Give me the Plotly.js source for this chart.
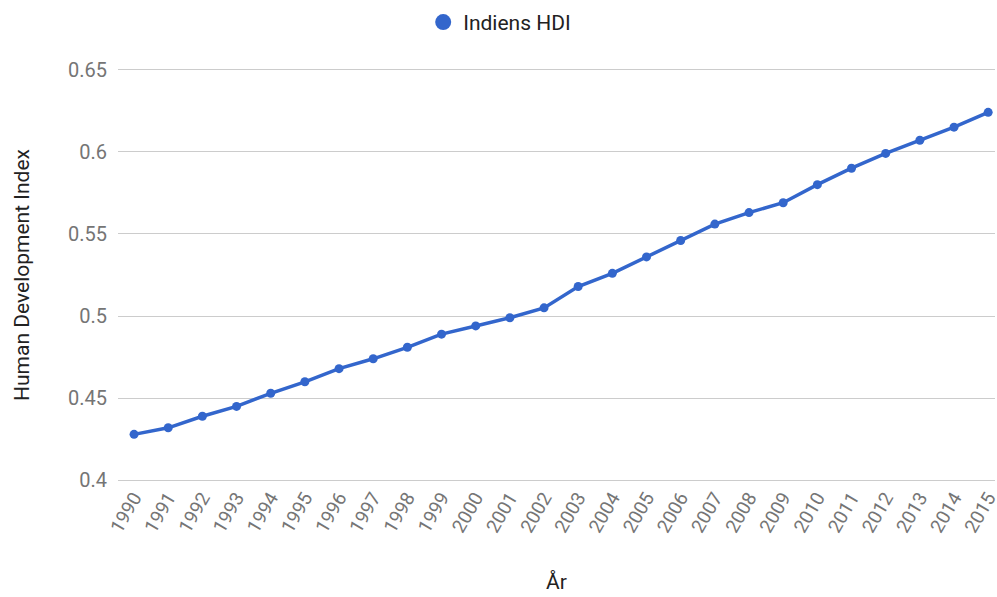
<!DOCTYPE html>
<html>
<head>
<meta charset="utf-8">
<script src="https://cdn.plot.ly/plotly-3.0.1.min.js"></script>
<style>html,body{margin:0;padding:0;background:#fff;}#chart{width:997px;height:597px;}</style>
</head>
<body>
<div id="chart"></div>
<script>
const years = [1990,1991,1992,1993,1994,1995,1996,1997,1998,1999,2000,2001,2002,2003,2004,2005,2006,2007,2008,2009,2010,2011,2012,2013,2014,2015];
const hdi = [0.428,0.432,0.439,0.445,0.453,0.460,0.468,0.474,0.481,0.489,0.494,0.499,0.505,0.518,0.526,0.536,0.546,0.556,0.563,0.569,0.580,0.590,0.599,0.607,0.615,0.624];
const seriesName = 'Indiens HDI';
const yTicks = [0.4,0.45,0.5,0.55,0.6,0.65];

const blue = '#3366cc';
const traces = [
  {x: years, y: hdi, type: 'scatter', mode: 'lines+markers', showlegend: false,
   line: {color: blue, width: 3.5}, marker: {color: blue, size: 9}, hoverinfo: 'x+y'},
  {x: [null], y: [null], type: 'scatter', mode: 'markers', name: seriesName,
   marker: {color: blue, size: 22}}
];
const layout = {
  width: 997, height: 597,
  margin: {l: 118, r: 2, t: 66, b: 115},
  paper_bgcolor: '#fff', plot_bgcolor: '#fff',
  font: {family: 'Roboto, Arial, sans-serif', color: '#757575', size: 20},
  showlegend: true,
  legend: {orientation: 'h', x: 0.348, xanchor: 'left', y: 1.11, yanchor: 'middle',
           itemsizing: 'trace', font: {size: 21, color: '#222'}},
  xaxis: {range: [1989.53, 2015.2], tickvals: years, ticktext: years.map(String),
          tickangle: -60, showgrid: false, zeroline: false, showline: false,
          ticks: '', ticklabeloverflow: 'allow', tickfont: {size: 19, color: '#757575'},
          title: {text: 'År', font: {size: 21, color: '#222'}, standoff: 38}},
  yaxis: {range: [0.399, 0.651], tickvals: yTicks, ticktext: yTicks.map(String),
          showgrid: true, gridcolor: '#cccccc', gridwidth: 1, zeroline: false,
          showline: false, ticks: '', ticklabelstandoff: 10, tickfont: {size: 20, color: '#757575'},
          title: {text: 'Human Development Index', font: {size: 21, color: '#222'}, standoff: 32}}
};
Plotly.newPlot('chart', traces, layout, {displayModeBar: false, staticPlot: true});
</script>
</body>
</html>
